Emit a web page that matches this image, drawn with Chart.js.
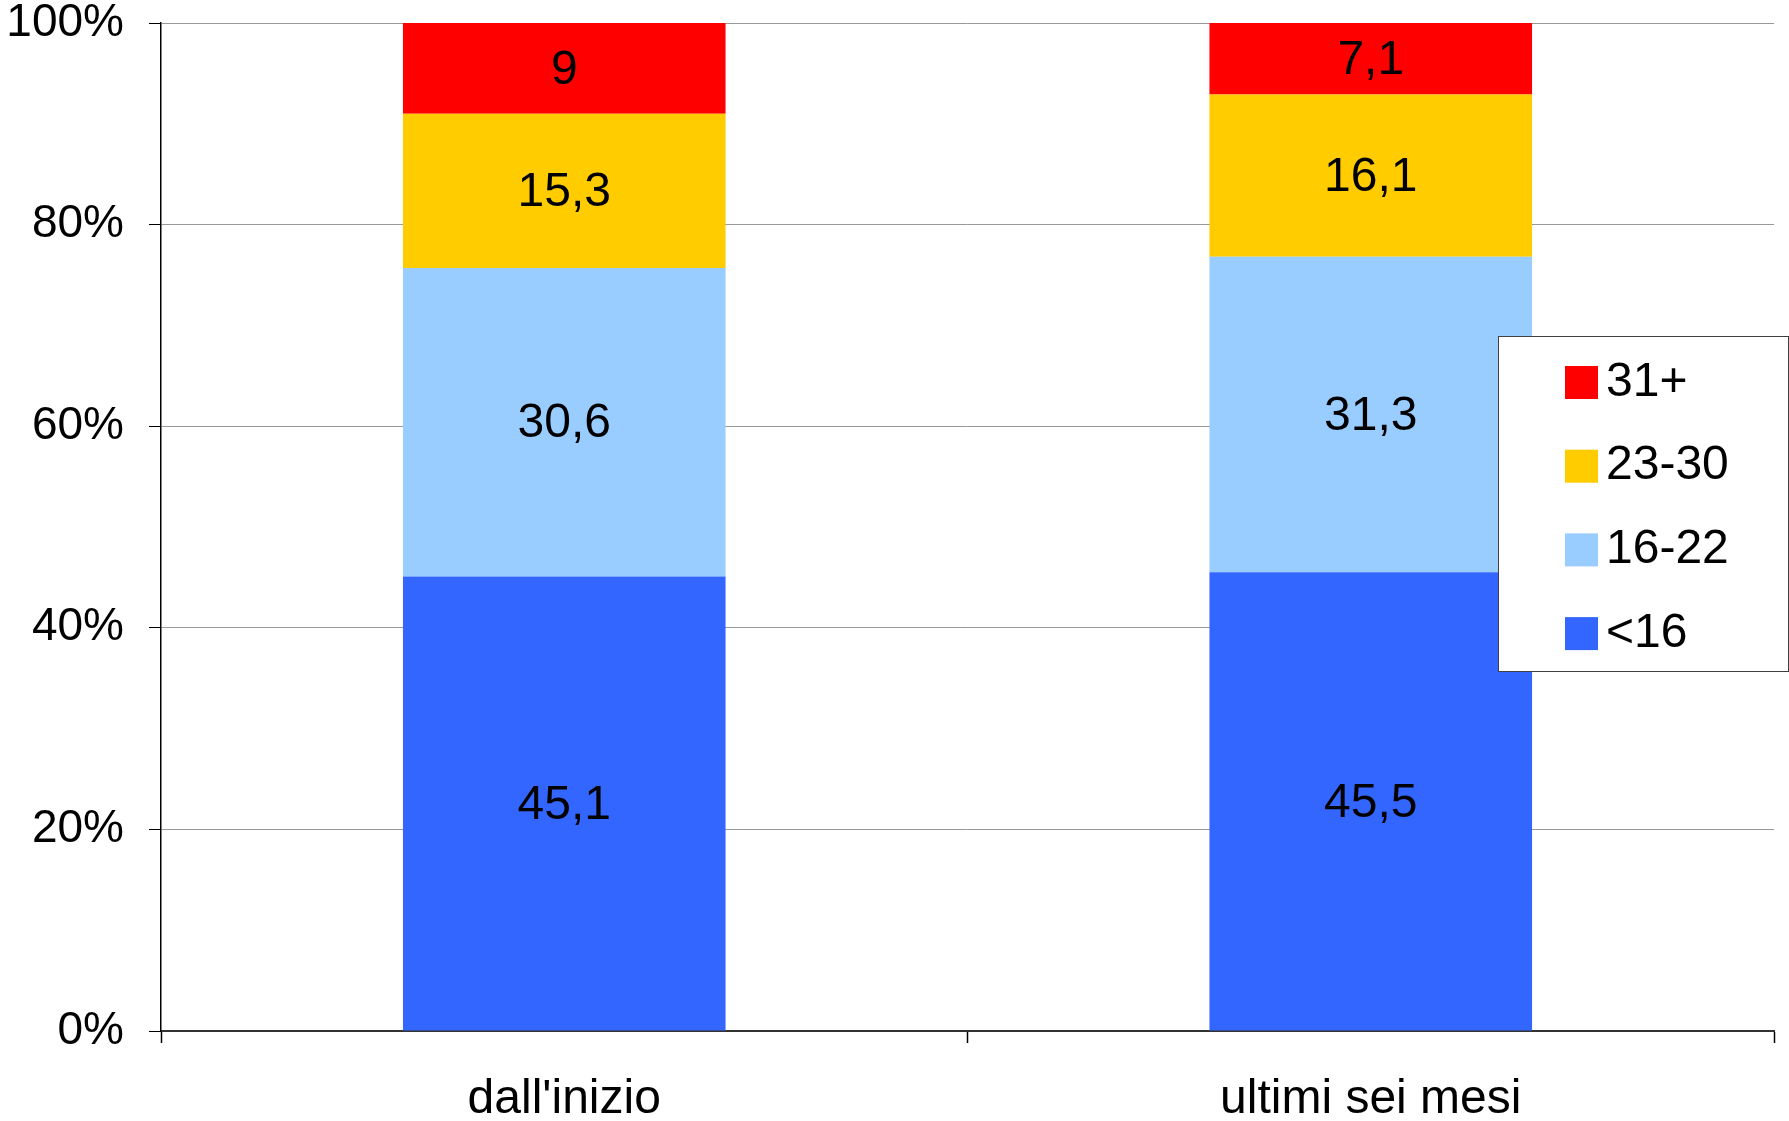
<!DOCTYPE html>
<html>
<head>
<meta charset="utf-8">
<script src="https://cdn.jsdelivr.net/npm/chart.js@4/dist/chart.umd.min.js"></script>
<style>
  html, body { margin: 0; padding: 0; background: #ffffff; }
  canvas { display: block; }
</style>
</head>
<body>
<canvas id="chart" width="1789" height="1121"></canvas>
<script>
// Categories along the x axis
const categories = ["dall'inizio", "ultimi sei mesi"];

// Age bands, stacked from the bottom up (percentages)
const under16 = [45.1, 45.5];
const from16to22 = [30.6, 31.3];
const from23to30 = [15.3, 16.1];
const over31 = [9, 7.1];

const seriesLabels = ['<16', '16-22', '23-30', '31+'];
const seriesColors = ['#3366FF', '#99CCFF', '#FFCC00', '#FF0000'];

// Y axis tick values
const yTicks = [0, 20, 40, 60, 80, 100];

const FONT_FAMILY = '"Liberation Sans", Arial, Helvetica, sans-serif';

// Writes each segment's value (decimal comma) in the middle of its bar piece
const valueLabels = {
  id: 'valueLabels',
  afterDatasetsDraw(chart) {
    const ctx = chart.ctx;
    ctx.save();
    ctx.font = '48px ' + FONT_FAMILY;
    ctx.fillStyle = '#000000';
    ctx.textAlign = 'center';
    ctx.textBaseline = 'middle';
    chart.data.datasets.forEach((ds, i) => {
      const meta = chart.getDatasetMeta(i);
      meta.data.forEach((bar, j) => {
        const v = ds.data[j];
        const y = (bar.y + bar.base) / 2 + 2;
        ctx.fillText(String(v).replace('.', ','), bar.x, y);
      });
    });
    ctx.restore();
  }
};

// Boxed legend at the right edge, top series first
const boxLegend = {
  id: 'boxLegend',
  afterDraw(chart) {
    const ctx = chart.ctx;
    const box = { x: 1498.5, y: 336.5, w: 290, h: 335 };
    ctx.save();
    ctx.fillStyle = '#ffffff';
    ctx.fillRect(box.x, box.y, box.w, box.h);
    ctx.strokeStyle = '#404040';
    ctx.lineWidth = 1;
    ctx.strokeRect(box.x, box.y, box.w, box.h);
    ctx.font = '48px ' + FONT_FAMILY;
    ctx.textAlign = 'left';
    ctx.textBaseline = 'middle';
    const items = chart.data.datasets.slice().reverse();
    const firstY = 382.5, step = 83.7, sw = 33;
    items.forEach((ds, k) => {
      const cy = firstY + k * step;
      ctx.fillStyle = ds.backgroundColor;
      ctx.fillRect(1565, cy - sw / 2, sw, sw);
      ctx.fillStyle = '#000000';
      ctx.fillText(ds.label, 1606, cy);
    });
    ctx.restore();
  }
};

const seriesData = [under16, from16to22, from23to30, over31];

new Chart(document.getElementById('chart'), {
  type: 'bar',
  data: {
    labels: categories,
    datasets: seriesData.map((d, i) => ({
      label: seriesLabels[i],
      data: d,
      backgroundColor: seriesColors[i],
      borderWidth: 0,
      barPercentage: 0.8,
      categoryPercentage: 0.5
    }))
  },
  options: {
    responsive: false,
    animation: false,
    devicePixelRatio: 1,
    layout: { padding: { top: 23, right: 15, left: 0, bottom: 0 } },
    plugins: {
      legend: { display: false },
      tooltip: { enabled: false }
    },
    scales: {
      x: {
        stacked: true,
        z: 1,
        grid: {
          offset: true,
          drawOnChartArea: false,
          drawTicks: true,
          tickLength: 12,
          tickColor: '#000000',
          tickWidth: 1.5
        },
        border: { display: true, color: '#333333', width: 2 },
        ticks: {
          color: '#000000',
          padding: 28,
          maxRotation: 0,
          font: { family: FONT_FAMILY, size: 48 }
        },
        afterFit(scale) {
          scale.height = 90;
          scale.paddingLeft = 0;
          scale.paddingRight = 0;
        }
      },
      y: {
        stacked: true,
        min: 0,
        max: 100,
        afterBuildTicks(scale) { scale.ticks = yTicks.map(v => ({ value: v })); },
        grid: {
          color: '#999999',
          lineWidth: 1,
          drawTicks: true,
          tickLength: 12,
          tickColor: '#000000'
        },
        border: { display: true, color: '#000000', width: 1.5 },
        ticks: {
          color: '#000000',
          padding: 25,
          font: { family: FONT_FAMILY, size: 46 },
          callback: (v) => v + '%'
        },
        afterFit(scale) {
          scale.width = 161;
          scale.paddingTop = 0;
          scale.paddingBottom = 0;
        }
      }
    }
  },
  plugins: [valueLabels, boxLegend]
});
</script>
</body>
</html>
